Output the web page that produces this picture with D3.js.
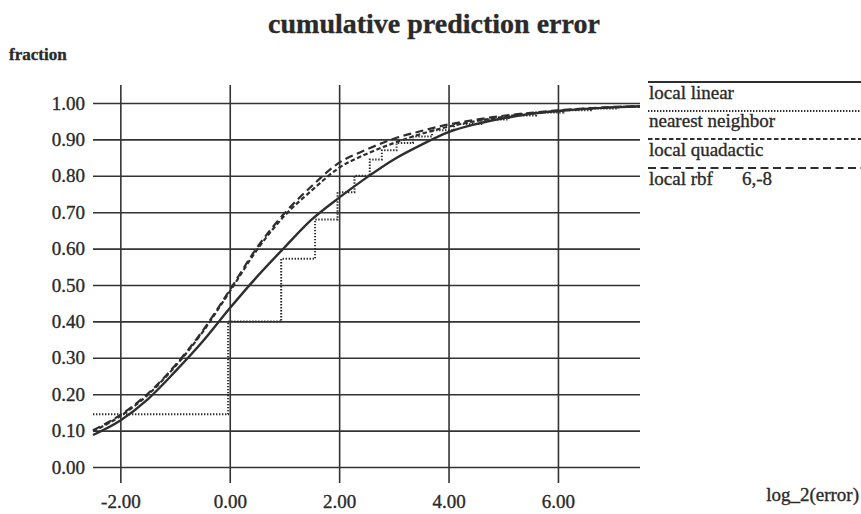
<!DOCTYPE html>
<html>
<head>
<meta charset="utf-8">
<script src="https://cdn.jsdelivr.net/npm/d3@7"></script>
<style>
  html, body { margin: 0; padding: 0; background: #fff; }
  svg { display: block; }
  text { font-family: "Liberation Serif", "Times New Roman", serif; fill: #2a2a2a; stroke: #2a2a2a; stroke-width: 0.35px; }
</style>
</head>
<body>
<svg id="chart" width="861" height="514"></svg>
<script>
// log2 of the prediction error, sample positions for the smooth curves
const errorX = [-2.5, -2, -1.5, -1, -0.5, 0, 0.5, 1, 1.5, 2, 2.5, 3, 3.5, 4, 4.5, 5, 5.5, 6, 6.5, 7, 7.5];

// cumulative fraction for each method
const localLinear    = [0.088, 0.128, 0.186, 0.262, 0.344, 0.436, 0.523, 0.603, 0.680, 0.740, 0.795, 0.845, 0.885, 0.920, 0.942, 0.958, 0.970, 0.978, 0.984, 0.988, 0.991];
const localQuadactic = [0.098, 0.140, 0.198, 0.276, 0.370, 0.482, 0.597, 0.690, 0.760, 0.822, 0.860, 0.890, 0.915, 0.935, 0.950, 0.962, 0.971, 0.978, 0.984, 0.988, 0.991];
const localRbf       = [0.101, 0.143, 0.201, 0.279, 0.373, 0.486, 0.603, 0.697, 0.772, 0.836, 0.872, 0.902, 0.923, 0.941, 0.954, 0.965, 0.973, 0.980, 0.985, 0.989, 0.991];

// nearest neighbor gives a step function: value holds from each x until the next
const nnX = [-2.5, -0.03, 0.94, 1.56, 1.97, 2.28, 2.56, 2.78, 3.05, 3.35, 3.7, 4.1, 4.6, 5.1, 5.6, 6.1, 6.6, 7.1, 7.5];
const nnY = [0.145, 0.400, 0.572, 0.680, 0.755, 0.800, 0.845, 0.870, 0.890, 0.908, 0.925, 0.942, 0.955, 0.966, 0.974, 0.980, 0.985, 0.989, 0.991];

const xTicks = [-2, 0, 2, 4, 6];
const yTicks = [0, 0.1, 0.2, 0.3, 0.4, 0.5, 0.6, 0.7, 0.8, 0.9, 1.0];

const legendLabels = ["local linear", "nearest neighbor", "local quadactic", "local rbf"];
const legendNotes  = ["", "", "", "6,-8"];
const legendDash   = [null, "1.4,1.6", "4.5,2.5", "8,4.5"];

const svg = d3.select("#chart");

const plotLeft = 93, plotRight = 640, plotTop = 103, plotBottom = 467;
const x = d3.scaleLinear().domain([-2.5, 7.5]).range([plotLeft, plotRight]);
const y = d3.scaleLinear().domain([0, 1]).range([plotBottom, plotTop]);

const ink = "#333";
const fmt = d => d.toFixed(2);   // plain hyphen for negatives

// title and axis captions
svg.append("text")
  .attr("x", 434).attr("y", 33)
  .attr("text-anchor", "middle")
  .style("font-size", "28px").style("font-weight", "bold")
  .text("cumulative prediction error");

svg.append("text")
  .attr("x", 9).attr("y", 60)
  .style("font-size", "17px").style("font-weight", "bold")
  .text("fraction");

svg.append("text")
  .attr("x", 859).attr("y", 501)
  .attr("text-anchor", "end")
  .style("font-size", "19px")
  .text("log_2(error)");

// horizontal grid + y labels
const gy = svg.append("g")
  .attr("transform", `translate(${plotLeft},0)`)
  .call(d3.axisLeft(y).tickValues(yTicks).tickFormat(fmt)
    .tickSizeInner(-(plotRight - plotLeft)).tickSizeOuter(0).tickPadding(8));
gy.select(".domain").remove();
gy.selectAll(".tick line").attr("stroke", ink).attr("stroke-width", 1.6);
gy.selectAll(".tick text")
  .style("font-size", "19px").style("font-family", "Liberation Serif, serif")
  .attr("fill", "#2a2a2a");

// vertical grid + x labels
const gridTop = 85, gridBottom = 483;
const gx = svg.append("g")
  .attr("transform", `translate(0,${gridBottom})`)
  .call(d3.axisBottom(x).tickValues(xTicks).tickFormat(fmt)
    .tickSizeInner(-(gridBottom - gridTop)).tickSizeOuter(0).tickPadding(12));
gx.select(".domain").remove();
gx.selectAll(".tick line").attr("stroke", ink).attr("stroke-width", 1.6);
gx.selectAll(".tick text")
  .style("font-size", "19px").style("font-family", "Liberation Serif, serif")
  .attr("fill", "#2a2a2a");

// curves
const smooth = d3.line()
  .x(d => x(d[0])).y(d => y(d[1]))
  .curve(d3.curveMonotoneX);
const steps = d3.line()
  .x(d => x(d[0])).y(d => y(d[1]))
  .curve(d3.curveStepAfter);

const zip = (xs, ys) => xs.map((v, i) => [v, ys[i]]);

const plot = svg.append("g").attr("fill", "none").attr("stroke", "#2e2e2e");

plot.append("path")
  .attr("d", smooth(zip(errorX, localRbf)))
  .attr("stroke-width", 2.2).attr("stroke-dasharray", legendDash[3]);

plot.append("path")
  .attr("d", smooth(zip(errorX, localQuadactic)))
  .attr("stroke-width", 2.2).attr("stroke-dasharray", legendDash[2]);

plot.append("path")
  .attr("d", steps(zip(nnX, nnY)))
  .attr("stroke-width", 2).attr("stroke-dasharray", legendDash[1]);

plot.append("path")
  .attr("d", smooth(zip(errorX, localLinear)))
  .attr("stroke-width", 2.4);

// legend
const legendLineY = [82, 111, 139, 168];
const legendTextY = [99, 127, 156, 185];
const lg = svg.append("g");
legendLabels.forEach((label, i) => {
  lg.append("line")
    .attr("x1", 648).attr("x2", 861)
    .attr("y1", legendLineY[i]).attr("y2", legendLineY[i])
    .attr("stroke", "#2e2e2e")
    .attr("stroke-width", i === 0 ? 2.2 : 2)
    .attr("stroke-dasharray", legendDash[i]);
  const t = lg.append("text")
    .attr("x", 649).attr("y", legendTextY[i])
    .style("font-size", "19px")
    .text(label);
  if (legendNotes[i]) {
    t.append("tspan").attr("x", 742).text(legendNotes[i]);
  }
});
</script>
</body>
</html>
